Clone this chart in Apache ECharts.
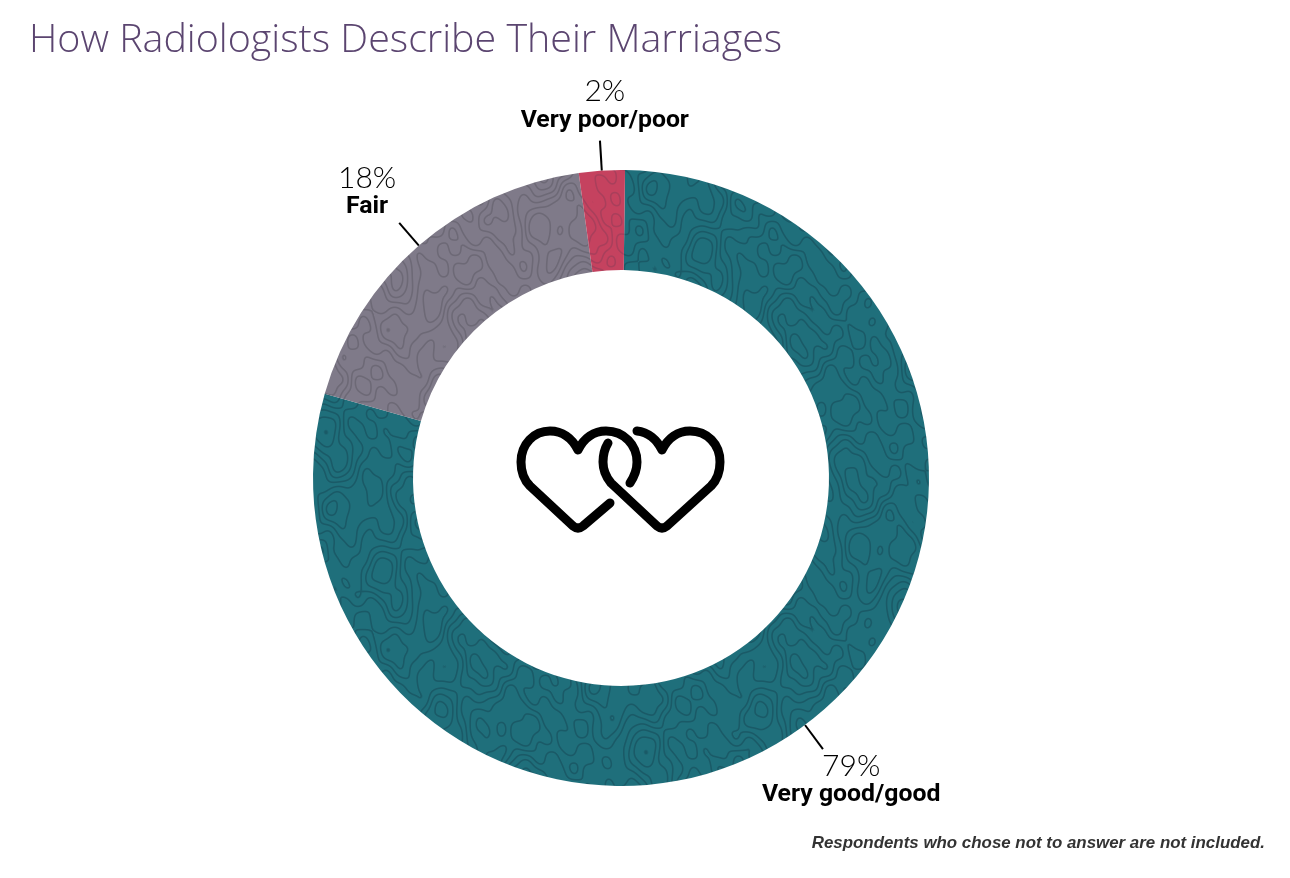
<!DOCTYPE html>
<html>
<head>
<meta charset="utf-8">
<title>How Radiologists Describe Their Marriages</title>
<script src="https://cdn.jsdelivr.net/npm/echarts@6/dist/echarts.min.js"></script>
<style>
html,body{margin:0;padding:0;background:#fff;}
#chart{width:1290px;height:878px;}
</style>
</head>
<body>
<div id="chart"></div>
<script>
let categories = ["Very good/good", "Fair", "Very poor/poor"];
let values = [79.2, 18.4, 2.4];
let baseColors = ["#1f6f7b", "#7f7a89", "#c5425f"];
let lineColors = ["#1a5a67", "#6d6976", "#a93f5b"];
let labelShift = [[-66, 31], [2, -31], [94, -35]];

// contour style texture, tile repeats seamlessly because every wave is periodic
let waves = [[1, 2, 0.3, 1.5], [3, 1, 1.7, 1.1], [-2, 3, 4.1, 1.0], [5, -2, 2.2, 0.8], [4, 5, 0.9, 0.6], [-7, 3, 5.2, 0.5], [8, 6, 3.3, 0.35], [11, -9, 1.2, 0.25], [-13, 10, 2.9, 0.2], [16, 7, 4.4, 0.15]];
let contourScale = 0.8;
function field(x, y, size) {
    let sum = 0;
    waves.forEach((w) => {
        sum += w[3] * Math.sin(2 * Math.PI * (w[0] * x + w[1] * y) / size + w[2]);
    });
    return sum * contourScale;
}
function hexToRgb(hex) {
    return [1, 3, 5].map((i) => parseInt(hex.substr(i, 2), 16));
}
function makeTexture(base, line) {
    let size = 320;
    let canvas = document.createElement("canvas");
    canvas.width = canvas.height = size;
    let ctx = canvas.getContext("2d");
    let img = ctx.createImageData(size, size);
    let [b, l] = [hexToRgb(base), hexToRgb(line)];
    for (let y = 0; y < size; y++) {
        for (let x = 0; x < size; x++) {
            let f = field(x, y, size);
            let gx = (field(x + 1, y, size) - field(x - 1, y, size)) / 2;
            let gy = (field(x, y + 1, size) - field(x, y - 1, size)) / 2;
            let grad = Math.max(Math.sqrt(gx * gx + gy * gy), 0.01);
            let dist = Math.abs(f - Math.round(f)) / grad;
            let a = Math.max(0, Math.min(1, 1.3 - dist));
            let i = (y * size + x) * 4;
            for (let c = 0; c < 3; c++) {
                img.data[i + c] = b[c] + (l[c] - b[c]) * a;
            }
            img.data[i + 3] = 255;
        }
    }
    ctx.putImageData(img, 0, 0);
    return canvas;
}

let pieData = categories.map((name, i) => ({
    name: name,
    value: values[i],
    itemStyle: {color: {image: makeTexture(baseColors[i], lineColors[i]), repeat: "repeat"}}
}));

let heartLeft = "M610 503 L583 526 Q578 530 573 526 L530 486 C523 479 521 471 521 462 C521 444 534 431 550 431 C562 431 572 438 578 450 C584 438 594 431 606 431 C624 431 637 445 637 462 C637 470 634 477 630 483";
let heartRight = "M637 431 C648 432 657 440 662 450 C668 438 678 431 690 431 C707 431 720 444 720 462 C720 471 718 479 711 486 L667 526 Q662 530 657 526 L611 483 C606 477 603 470 603 462 C603 454 605 448 608 443";

let myChart = echarts.init(document.getElementById("chart"));
let option = {
    backgroundColor: "#fff",
    animation: false,
    title: [{
        text: "How Radiologists Describe Their Marriages",
        left: 24,
        top: 16,
        textStyle: {color: "#5b4570", fontFamily: "Open Sans", fontWeight: 300, fontSize: 39.4}
    }, {
        text: "Respondents who chose not to answer are not included.",
        right: 20,
        top: 830,
        textStyle: {color: "#333", fontFamily: "Liberation Sans", fontWeight: "bold", fontStyle: "italic", fontSize: 16.9}
    }],
    series: [{
        type: "pie",
        center: [621, 478],
        radius: [208, 308],
        startAngle: 89.25,
        clockwise: true,
        silent: true,
        data: pieData,
        label: {
            position: "outside",
            formatter: (p) => `{pct|${Math.round(p.value)}%}\n{name|${p.name}}`,
            rich: {
                pct: {fontFamily: "Lato", fontWeight: 300, fontSize: 30, color: "#000", align: "center", lineHeight: 30},
                name: {fontFamily: "Roboto", fontWeight: "bold", fontSize: 24.8, color: "#000", align: "center", lineHeight: 28}
            }
        },
        labelLine: {
            show: true,
            length: 30,
            length2: 0,
            lineStyle: {color: "#000", width: 2}
        },
        labelLayout: (p) => ({dx: labelShift[p.dataIndex][0], dy: labelShift[p.dataIndex][1]})
    }, {
        // the two linked hearts in the hole
        type: "custom",
        coordinateSystem: "none",
        silent: true,
        data: [0],
        renderItem: () => ({
            type: "group",
            children: [heartLeft, heartRight].map((d) => ({
                type: "path",
                shape: {pathData: d},
                style: {fill: "none", stroke: "#000", lineWidth: 9, lineCap: "round", lineJoin: "round"}
            }))
        })
    }]
};
myChart.setOption(option);
</script>
</body>
</html>
